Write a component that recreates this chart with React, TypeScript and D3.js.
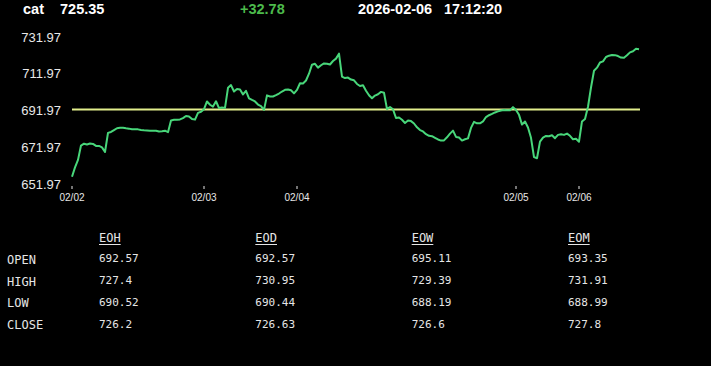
import React from "react";
import * as d3 from "d3";

const symbol = "cat";
const lastPrice = "725.35";
const change = "+32.78";
const dateText = "2026-02-06";
const timeText = "17:12:20";
const openPrice = 692.57;

const prices = [
  655.9, 661.0, 665.1, 672.9, 673.9, 673.5, 674.0, 673.8, 672.7, 672.7,
  671.9, 669.4, 679.8, 680.3, 681.3, 682.3, 682.6, 682.6, 682.3, 682.1,
  681.8, 681.8, 681.7, 681.4, 681.2, 681.1, 681.0, 681.0, 680.9, 680.5,
  680.7, 681.0, 680.2, 686.5, 686.9, 686.9, 687.1, 687.8, 689.0, 688.7,
  687.3, 687.0, 690.7, 691.3, 692.7, 696.9, 695.1, 694.1, 697.0, 693.3,
  693.6, 693.4, 704.3, 705.8, 702.3, 703.7, 703.4, 700.7, 702.7, 698.6,
  697.7, 696.9, 695.2, 694.3, 692.3, 700.2, 699.6, 699.6, 700.3, 701.2,
  702.3, 703.2, 703.4, 703.0, 701.3, 703.2, 706.8, 706.7, 708.3, 712.0,
  716.9, 717.4, 715.3, 716.6, 717.6, 717.4, 717.0, 718.9, 720.2, 722.9,
  710.4, 709.6, 709.9, 708.8, 708.4, 706.4, 705.3, 705.7, 702.7, 700.3,
  698.6, 700.1, 700.8, 702.1, 701.6, 692.7, 693.9, 692.6, 687.9, 688.2,
  686.9, 685.2, 686.5, 686.2, 684.9, 682.8, 681.3, 680.6, 679.1, 678.2,
  678.0, 677.1, 676.2, 675.6, 675.7, 677.4, 679.4, 681.0, 677.6, 677.3,
  675.6, 676.3, 676.8, 682.5, 685.8, 685.0, 685.0, 686.0, 688.4, 689.4,
  690.1, 690.9, 691.5, 692.0, 692.3, 692.1, 692.1, 693.8, 692.3, 689.6,
  684.3, 686.0, 682.7, 677.1, 666.6, 666.0, 675.0, 677.2, 678.1, 678.0,
  678.5, 676.9, 678.7, 679.0, 678.7, 679.4, 678.2, 676.3, 676.6, 675.0,
  686.0, 687.4, 694.0, 704.5, 713.6, 715.3, 718.1, 718.7, 721.1, 721.8,
  722.2, 722.1, 721.6, 720.8, 720.7, 722.0, 723.6, 724.2, 725.6, 725.35,
];

const xTickIndex = [0, 44, 75, 148, 169];
const xTickLabels = ["02/02", "02/03", "02/04", "02/05", "02/06"];
const yTicks = [651.97, 671.97, 691.97, 711.97, 731.97];

const rowLabels = ["OPEN", "HIGH", "LOW", "CLOSE"];
const colLabels = ["EOH", "EOD", "EOW", "EOM"];
const eohValues = ["692.57", "727.4", "690.52", "726.2"];
const eodValues = ["692.57", "730.95", "690.44", "726.63"];
const eowValues = ["695.11", "729.39", "688.19", "726.6"];
const eomValues = ["693.35", "731.91", "688.99", "727.8"];
const tableValues = [eohValues, eodValues, eowValues, eomValues];

const W = 711;
const H = 366;

export default function App() {
  const x = d3.scaleLinear().domain([0, prices.length - 1]).range([72, 639]);
  const y = d3.scaleLinear().domain([651.97, 731.97]).range([184, 37]);
  const line = d3
    .line<number>()
    .x((_, i) => x(i))
    .y((d) => y(d));

  const colX = d3.scaleLinear().domain([0, 3]).range([99, 568]);
  const labelY = d3.scaleLinear().domain([0, 3]).range([264, 329]);
  const valueY = d3.scaleLinear().domain([0, 3]).range([262, 327.5]);

  const sans = "'Liberation Sans', Arial, sans-serif";
  const mono = "'DejaVu Sans Mono', monospace";

  return (
    <svg
      width={W}
      height={H}
      style={{ position: "absolute", left: 0, top: 0, display: "block" }}
    >
      <rect x={0} y={0} width={W} height={H} fill="#000" />
      {/* header */}
      <g fontFamily={sans} fontWeight="bold" fontSize={14.5}>
        <text x={23} y={13.5} fill="#fff">{symbol}</text>
        <text x={60} y={13.5} fill="#fff">{lastPrice}</text>
        <text x={240} y={13.5} fill="#4cbb4c">{change}</text>
        <text x={358} y={13.5} fill="#fff">{dateText}</text>
        <text x={444} y={13.5} fill="#fff">{timeText}</text>
      </g>
      {/* y labels */}
      <g fontFamily={sans} fontSize={13} fill="#e8e8e8">
        {yTicks.map((t) => (
          <text key={t} x={61} y={y(t)} dy="0.36em" textAnchor="end">
            {t.toFixed(2)}
          </text>
        ))}
      </g>
      {/* x ticks */}
      <g fontFamily={sans} fontSize={10} fill="#e8e8e8">
        {xTickIndex.map((ti, k) => (
          <g key={ti}>
            <line x1={x(ti)} x2={x(ti)} y1={186} y2={189} stroke="#e8e8e8" strokeWidth={1} />
            <text x={x(ti)} y={201} textAnchor="middle">
              {xTickLabels[k]}
            </text>
          </g>
        ))}
      </g>
      {/* open line */}
      <line
        x1={x(0)}
        x2={x(prices.length - 1) + 1}
        y1={y(openPrice)}
        y2={y(openPrice)}
        stroke="#e2ee8c"
        strokeWidth={2}
      />
      {/* price line */}
      <path d={line(prices) || ""} fill="none" stroke="#48d67a" strokeWidth={2} strokeLinejoin="round" />
      {/* table */}
      <g fontFamily={mono} fill="#e6e6e6">
        {colLabels.map((c, j) => (
          <g key={c}>
            <text x={colX(j)} y={242} fontSize={12}>{c}</text>
            <line
              x1={colX(j)}
              x2={colX(j) + c.length * 12 * 0.602}
              y1={244.5}
              y2={244.5}
              stroke="#e6e6e6"
              strokeWidth={1}
            />
            {tableValues[j].map((v, r) => (
              <text key={r} x={colX(j)} y={valueY(r)} fontSize={11}>
                {v}
              </text>
            ))}
          </g>
        ))}
        {rowLabels.map((l, r) => (
          <text key={l} x={7} y={labelY(r)} fontSize={12}>
            {l}
          </text>
        ))}
      </g>
    </svg>
  );
}
